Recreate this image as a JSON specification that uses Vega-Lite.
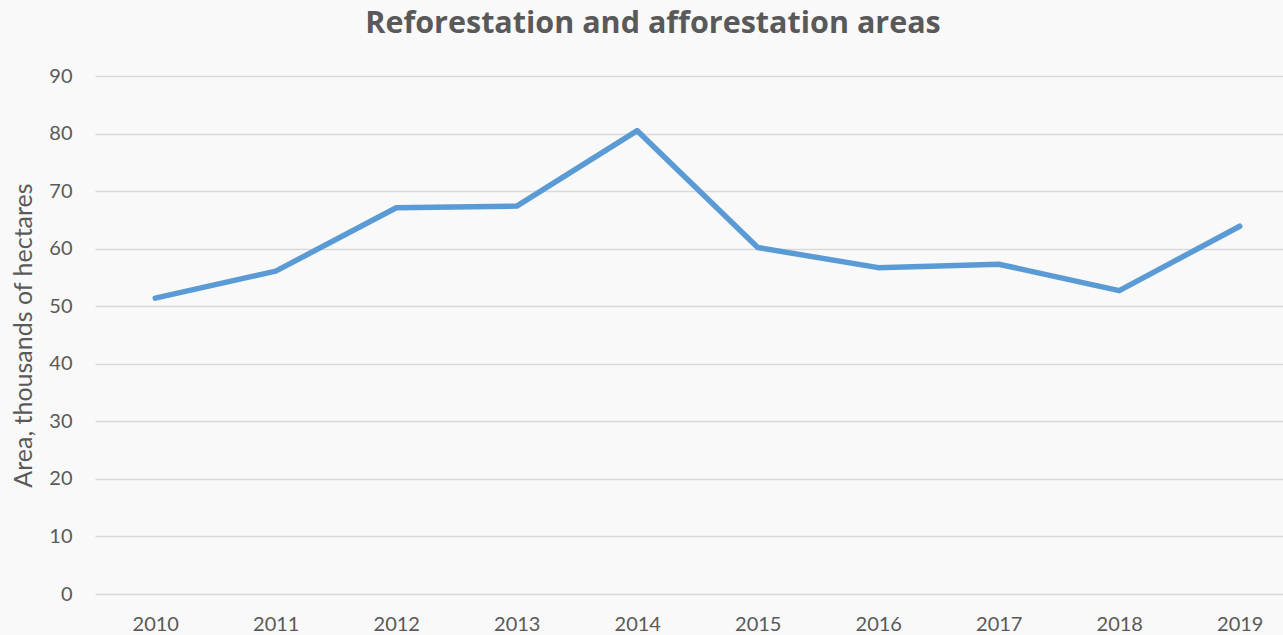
{
  "$schema": "https://vega.github.io/schema/vega-lite/v6.json",
  "width": 1188,
  "height": 518,
  "autosize": "none",
  "padding": {"left": 95, "top": 76, "right": 0, "bottom": 41},
  "background": "#f9f9f9",
  "title": {
    "text": "Reforestation and afforestation areas",
    "font": "Open Sans",
    "fontSize": 30.5,
    "fontWeight": "bold",
    "color": "#595959",
    "anchor": "middle",
    "dx": -36,
    "offset": 27
  },
  "data": {
    "values": [
      {"year": "2010", "area": 51.4},
      {"year": "2011", "area": 56.1},
      {"year": "2012", "area": 67.1},
      {"year": "2013", "area": 67.4},
      {"year": "2014", "area": 80.5},
      {"year": "2015", "area": 60.2},
      {"year": "2016", "area": 56.7},
      {"year": "2017", "area": 57.3},
      {"year": "2018", "area": 52.7},
      {"year": "2019", "area": 63.9}
    ]
  },
  "config": {
    "view": {"stroke": null},
    "axis": {
      "labelFont": "Lato",
      "labelFontSize": 20,
      "labelColor": "#595959",
      "titleFont": "Lato",
      "titleFontSize": 25,
      "titleFontWeight": "normal",
      "titleColor": "#595959"
    }
  },
  "mark": {"type": "line", "color": "#5b9bd5", "strokeWidth": 5.5, "strokeCap": "round", "strokeJoin": "round"},
  "encoding": {
    "x": {
      "field": "year",
      "type": "ordinal",
      "scale": {"range": [0, 1205], "paddingInner": 0, "paddingOuter": 0.5},
      "axis": {"title": null, "labelAngle": 0, "ticks": false, "domain": false, "labelPadding": 20, "grid": false}
    },
    "y": {
      "field": "area",
      "type": "quantitative",
      "scale": {"domain": [0, 90]},
      "axis": {
        "title": "Area, thousands of hectares",
        "values": [0, 10, 20, 30, 40, 50, 60, 70, 80, 90],
        "ticks": false,
        "domain": false,
        "labelPadding": 23,
        "titlePadding": 12,
        "gridColor": "#d9d9d9",
        "gridWidth": 1.5
      }
    }
  }
}
